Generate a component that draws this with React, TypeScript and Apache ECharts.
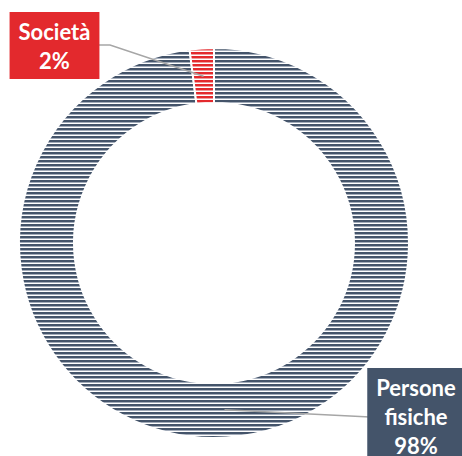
import React, { useEffect, useRef } from 'react';
import * as echarts from 'echarts';

const categories = ['Persone fisiche', 'Società'];
const values = [98, 2];
const sliceColors = ['#44546A', '#E3292D'];
const sliceMidColors = ['#A3ACBA', '#F09C9D'];

const CX = 214;
const CY = 243;
const R_IN = 140;
const R_OUT = 195;
const R_LINE = 167;

function stripe(dark: string, mid: string) {
  const c = document.createElement('canvas');
  c.width = 4;
  c.height = 4;
  const ctx = c.getContext('2d')!;
  ctx.fillStyle = '#ffffff';
  ctx.fillRect(0, 0, 4, 4);
  ctx.fillStyle = dark;
  ctx.fillRect(0, 0, 4, 2);
  ctx.fillStyle = mid;
  ctx.fillRect(0, 2, 4, 1);
  return { image: c.toDataURL(), imageWidth: 4, imageHeight: 4, repeat: 'repeat' };
}

export default function App() {
  const ref = useRef<HTMLDivElement>(null);
  useEffect(() => {
    if (!ref.current) return;
    const chart = echarts.init(ref.current, undefined, { renderer: 'svg' });
    const total = values.reduce((a, b) => a + b, 0);
    const midPoint = (idx: number) => {
      let acc = 0;
      for (let i = 0; i < idx; i++) acc += values[i];
      const midDeg = 90 - ((acc + values[idx] / 2) / total) * 360;
      const a = (midDeg * Math.PI) / 180;
      return [CX + R_LINE * Math.cos(a), CY - R_LINE * Math.sin(a)];
    };
    const mainData = categories.map((name, i) => ({
      name,
      value: values[i],
      itemStyle: { color: stripe(sliceColors[i], sliceMidColors[i]) as any },
    }));
    const labelData = categories.map((name, i) => ({
      name,
      value: values[i],
      label: { backgroundColor: sliceColors[i] },
    }));
    chart.setOption({
      animation: false,
      series: [
        {
          type: 'pie',
          z: 2,
          center: [CX, CY],
          radius: [R_IN, R_OUT],
          startAngle: 90,
          clockwise: true,
          silent: true,
          label: { show: false },
          labelLine: { show: false },
          itemStyle: { borderColor: '#ffffff', borderWidth: 2 },
          data: mainData,
        },
        {
          type: 'pie',
          z: 5,
          center: [CX, CY],
          radius: [0, R_LINE],
          startAngle: 90,
          clockwise: true,
          silent: true,
          avoidLabelOverlap: false,
          itemStyle: { color: 'rgba(0,0,0,0)' },
          label: {
            show: true,
            position: 'outside',
            fontFamily: 'Lato',
            fontWeight: 'bold',
            fontSize: 22,
            lineHeight: 29,
            color: '#ffffff',
            padding: [5, 9, 4, 9],
            formatter: (p: any) => `${p.name.split(' ').join('\n')}\n${p.value}%`,
          },
          labelLine: {
            show: true,
            length: 10,
            length2: 10,
            lineStyle: { color: '#A6A6A6', width: 1.5 },
          },
          labelLayout: (p: any) => {
            const p0 = p.labelLinePoints && p.labelLinePoints[0] ? p.labelLinePoints[0] : midPoint(p.dataIndex);
            if (p.dataIndex === 1) {
              return {
                x: 54.5,
                y: 12,
                align: 'center',
                verticalAlign: 'top',
                labelLinePoints: [p0, [110, 45], [99, 45]],
              };
            }
            return {
              x: 416,
              y: 368,
              align: 'center',
              verticalAlign: 'top',
              labelLinePoints: [p0, [370, 417]],
            };
          },
          data: labelData,
        },
      ],
    });
    return () => chart.dispose();
  }, []);
  return (
    <div
      ref={ref}
      style={{ position: 'fixed', left: 0, top: 0, width: 462, height: 456, background: '#ffffff' }}
    />
  );
}
